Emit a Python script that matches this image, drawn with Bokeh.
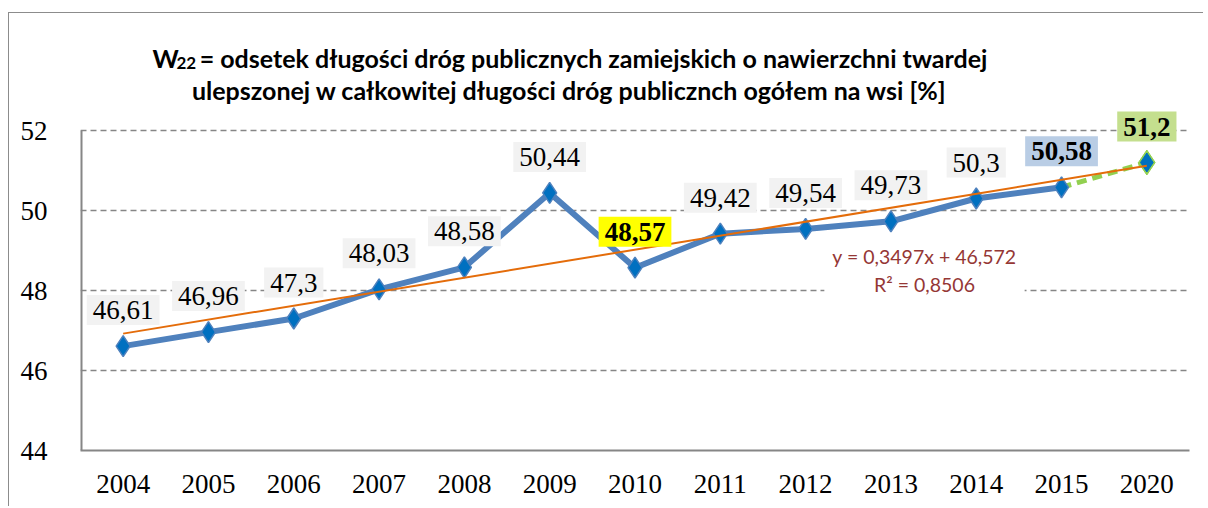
from bokeh.plotting import figure
from bokeh.models import Range1d, FixedTicker, Label
from bokeh.embed import file_html
from bokeh.resources import INLINE

# ---- data ----
years = ["2004", "2005", "2006", "2007", "2008", "2009", "2010",
         "2011", "2012", "2013", "2014", "2015", "2020"]
values = [46.61, 46.96, 47.3, 48.03, 48.58, 50.44, 48.57,
          49.42, 49.54, 49.73, 50.3, 50.58]          # 2004-2015
forecast_years = ["2015", "2020"]
forecast_values = [50.58, 51.2]
trend_slope = 0.3497
trend_intercept = 46.572
r_squared = 0.8506
y_ticks = [44, 46, 48, 50, 52]
highlight_years = ["2010", "2015", "2020"]
highlight_colors = ["#ffff00", "#b9cde5", "#c4df8e"]

title_sub = "22"
title_line1 = "= odsetek długości dróg publicznych zamiejskich o nawierzchni twardej"
title_line2 = "ulepszonej w całkowitej długości dróg publicznch ogółem na wsi [%]"

# ---- geometry (page pixels) ----
ORIGIN_X, ORIGIN_Y = 9, 13          # canvas origin on the page
AX_L, AX_R, AX_B, GRID_T = 80, 1189, 450, 130   # axis box of the chart
FRAME_T = 28                        # frame extended upward so labels/title are not clipped
NCAT = len(years)
PX_PER_UNIT = (AX_B - GRID_T) / (y_ticks[-1] - y_ticks[0])
Y_TOP = y_ticks[0] + (AX_B - FRAME_T) / PX_PER_UNIT

def dx(px):
    return (px - AX_L) / ((AX_R - AX_L) / NCAT) - 0.5
def dy(py):
    return y_ticks[0] + (AX_B - py) / PX_PER_UNIT

W, H = 1195, 494
p = figure(width=W, height=H, output_backend="svg", toolbar_location=None,
           x_range=Range1d(-0.5, NCAT - 0.5), y_range=Range1d(y_ticks[0], Y_TOP),
           min_border_left=AX_L - ORIGIN_X, min_border_top=FRAME_T - ORIGIN_Y,
           min_border_right=W - (AX_R - ORIGIN_X), min_border_bottom=H - (AX_B - ORIGIN_Y))
p.margin = (12, 0, 0, 8)
p.styles = {"border-top": "1px solid #8c8c8c", "border-left": "1px solid #8c8c8c"}
p.outline_line_color = None
p.background_fill_color = "white"
p.border_fill_color = "white"

GRAY = "#868686"
SERIF = "Liberation Serif"

# axes
p.xaxis.ticker = FixedTicker(ticks=list(range(NCAT)))
p.xaxis.major_label_overrides = {i: y for i, y in enumerate(years)}
p.yaxis.ticker = FixedTicker(ticks=y_ticks)
for ax in (p.xaxis, p.yaxis):
    ax.axis_line_color = GRAY
    ax.axis_line_width = 2
    ax.major_tick_line_color = None
    ax.minor_tick_line_color = None
    ax.major_label_text_font = SERIF
    ax.major_label_text_font_size = "27px"
    ax.major_label_text_color = "#000000"
p.yaxis.axis_line_color = None
p.xaxis.major_label_standoff = 18
p.yaxis.major_label_standoff = 27
p.xgrid.grid_line_color = None
p.ygrid.ticker = FixedTicker(ticks=y_ticks[1:])
p.ygrid.grid_line_color = GRAY
p.ygrid.grid_line_width = 1.5
p.ygrid.grid_line_dash = "6 4"

# y axis line only between 44 and 52
p.segment(x0=[-0.5], y0=[y_ticks[0]], x1=[-0.5], y1=[y_ticks[-1]],
          line_color=GRAY, line_width=4)

# series
xi = [years.index(y) for y in years[:len(values)]]
p.line(xi, values, line_color="#4f81bd", line_width=6, line_join="round")
fx = [years.index(y) for y in forecast_years]
p.line(fx, forecast_values, line_color="#92d050", line_width=5, line_dash="10 6")
p.scatter([fx[-1]], [forecast_values[-1]], marker="diamond", size=25,
          fill_color="#92d050", line_color="#92d050")
p.scatter(xi, values, marker="diamond", size=21, fill_color="#0070c0",
          line_color="#4f81bd", line_width=1.5)
p.scatter([fx[-1]], [forecast_values[-1]], marker="diamond", size=19,
          fill_color="#0070c0", line_color="#0070c0")

# trend line
tx = [0, NCAT - 1]
ty = [trend_slope * (i + 1) + trend_intercept for i in tx]
p.line(tx, ty, line_color="#e46c0a", line_width=2)

# data labels
all_vals = values + forecast_values[1:]
for i, (yr, v) in enumerate(zip(years, all_vals)):
    txt = f"{v:g}".replace(".", ",")
    if yr in highlight_years:
        bg = highlight_colors[highlight_years.index(yr)]
        style = "bold"
    else:
        bg = "#f2f2f2"
        style = "normal"
    p.add_layout(Label(x=i, y=v, text=txt, y_offset=36, text_align="center",
                       text_baseline="middle", text_font=SERIF, text_font_size="27px",
                       text_font_style=style, text_color="#000000",
                       background_fill_color=bg, padding=6))

# trend equation
eq = (f"y = {trend_slope:g}x + {trend_intercept:g}".replace(".", ",")
      + "\n" + f"R² = {r_squared:g}".replace(".", ","))
p.add_layout(Label(x=dx(924), y=dy(270), text=eq, text_align="center",
                   text_baseline="middle", text_font="Lato", text_font_size="19.5px",
                   text_color="#953735", background_fill_color="white", padding=8))

# title
TF = "Lato"
p.add_layout(Label(x=dx(152), y=dy(57), text="W", text_align="left",
                   text_baseline="alphabetic", text_font=TF, text_font_size="25px",
                   text_font_style="bold", text_color="#000000"))
p.add_layout(Label(x=dx(176), y=dy(62), text=title_sub, text_align="left",
                   text_baseline="alphabetic", text_font=TF, text_font_size="17px",
                   text_font_style="bold", text_color="#000000"))
p.add_layout(Label(x=dx(593), y=dy(57), text=title_line1, text_align="center",
                   text_baseline="alphabetic", text_font=TF, text_font_size="25px",
                   text_font_style="bold", text_color="#000000"))
p.add_layout(Label(x=dx(569), y=dy(89), text=title_line2, text_align="center",
                   text_baseline="alphabetic", text_font=TF, text_font_size="25px",
                   text_font_style="bold", text_color="#000000"))

open("out.html", "w").write(file_html(p, INLINE))
